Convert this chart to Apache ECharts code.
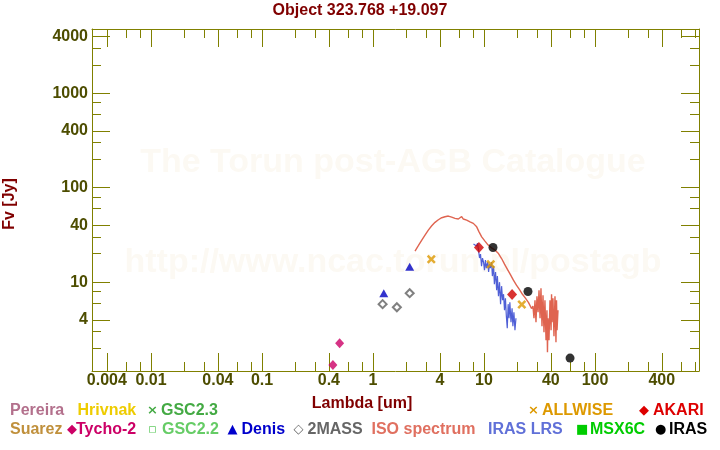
<!DOCTYPE html>
<html><head><meta charset="utf-8">
<script src="https://cdn.jsdelivr.net/npm/echarts@6/dist/echarts.min.js"></script>
<style>html,body{margin:0;padding:0;background:#fff}#c{width:720px;height:450px}</style>
</head><body><div id="c"></div>
<script>
// ---------- data ----------
const chartTitle = 'Object 323.768 +19.097';
const xName = 'Lambda [um]';
const yName = 'Fv [Jy]';
const xRange = [0.002938, 865];
const yRange = [1.147, 4786];
const xTickMajor = [0.004,0.01,0.04,0.1,0.4,1,4,10,40,100,400];
const xTickMinor = [0.006,0.008,0.02,0.03,0.06,0.08,0.2,0.3,0.6,0.8,2,3,6,8,20,30,60,80,200,300,600,800];
const yTickMajor = [4,10,40,100,400,1000,4000];
const yTickMinor = [2,3,6,8,20,30,60,80,200,300,600,800,2000,3000];

const tycho2 = [[0.435,1.33],[0.50,2.25]];
const denis = [[1.25,7.64],[2.14,14.6]];
const twomass = [[1.22,5.85],[1.64,5.43],[2.14,7.64]];
const allwise = [[3.35,17.5],[11.5,15.5],[21.9,5.80]];
const akari = [[9.0,23.3],[17.9,7.41]];
const iras = [[12.05,23.3],[24.9,7.97],[59.6,1.57]];

const isoSpectrum = [
 [2.39,21.3],[2.56,24.3],[2.75,27.9],[2.94,31.5],[3.15,35.6],[3.38,39.5],[3.62,43.0],[3.88,45.8],
 [4.16,48.1],[4.45,49.3],[4.77,50.1],[5.11,48.9],[5.48,47.4],[5.87,46.6],[6.29,49.5],[6.51,46.6],
 [6.98,45.4],[7.48,43.5],[8.01,41.9],[8.59,38.5],[9.02,34.1],[9.53,30.2],[10.2,27.2],[10.9,24.7],
 [11.7,23.1],[12.6,21.8],[13.5,20.1],[14.4,17.8],
 [14.8,18.2],[15.3,15.5],[15.8,16.0],[16.3,13.6],[16.8,14.1],[17.3,12.0],[17.9,12.4],[18.4,10.5],
 [19.0,10.9],[19.6,9.30],[20.2,9.69],[20.9,8.33],[21.5,8.68],[22.2,7.44],[22.9,7.80],[23.7,6.73],
 [24.4,7.05],[25.2,6.08],[26.0,6.24],[26.8,5.26],
 [27.6,5.57],[28.2,4.15],[28.8,6.44],[29.4,3.77],[30.0,7.10],[30.7,4.81],[31.3,8.22],[32.0,4.15],
 [32.6,8.63],[33.3,3.41],[34.0,7.28],[34.7,2.95],[35.4,6.44],[36.2,2.43],[36.9,5.05],[37.3,1.81],
 [37.7,4.15],[38.5,2.43],[39.3,6.44],[40.2,3.10],[40.6,7.46],[41.0,3.77],[41.8,6.76],[42.7,2.68],
 [43.6,7.10],[44.5,2.31],[45.0,6.44],[45.5,3.10],[46.4,5.05]
];
const irasLRS = [
 [8.04,25.3],[8.30,26.5],[8.56,24.1],[8.74,25.9],[8.92,21.8],[9.11,18.0],[9.30,19.8],[9.50,14.8],
 [9.69,18.0],[9.90,16.3],[10.1,13.4],[10.3,17.1],[10.5,14.1],[10.8,16.3],[11.0,12.8],[11.2,15.5],
 [11.4,14.1],[11.7,16.3],[11.9,11.6],[12.2,14.8],[12.4,9.52],[12.7,12.8],[13.0,8.22],[13.2,11.6],
 [13.5,7.10],[13.8,10.0],[14.1,5.85],[14.4,9.07],[14.7,6.44],[15.0,7.46],[15.3,5.05],[15.6,6.76],
 [15.9,4.36],[16.2,3.25],[16.5,5.85],[16.8,4.15],[17.1,6.14],[17.5,3.77],[17.9,5.30],[18.2,3.41],
 [18.6,4.81],[19.0,3.10],[19.4,4.15]
];

const legendRow1 = [
 {name:'Pereira', color:'#b3708c'}, {name:'Hrivnak', color:'#eecc00'},
 {name:'GSC2.3', color:'#44aa44', mark:'×'}, {name:'ALLWISE', color:'#dd9900', mark:'×'},
 {name:'AKARI', color:'#dd0000', mark:'◆'}
];
const legendRow2 = [
 {name:'Suarez', color:'#c0903c'}, {name:'Tycho-2', color:'#cc0066', mark:'◆'},
 {name:'GSC2.2', color:'#66cc66', mark:'▫'}, {name:'Denis', color:'#0000cc', mark:'▲'},
 {name:'2MASS', color:'#666666', mark:'◇'}, {name:'ISO spectrum', color:'#e07060'},
 {name:'IRAS LRS', color:'#6070d8'}, {name:'MSX6C', color:'#00cc00', mark:'■'},
 {name:'IRAS', color:'#000000', mark:'●'}
];

// ---------- layout / style ----------
const AX = '#808000';
const LBL = '#4d4d00';
const FONT = '"Liberation Sans", Arial, sans-serif';
const L = v => Math.log10(v);
const fmt = v => String(parseFloat(Math.pow(10, v).toPrecision(2)));
const P = arr => arr.map(d => [L(d[0]), L(d[1])]);

function mkAxis(kind, pos, ticks, len, labels) {
  const r = kind === 'x' ? xRange : yRange;
  const ax = {
    type: 'value', position: pos, min: L(r[0]), max: L(r[1]),
    axisLine: {show: true, onZero: false, lineStyle: {color: AX, width: 1}},
    axisTick: {show: true, inside: true, length: len, customValues: ticks.map(L), lineStyle: {color: AX, width: 1}},
    splitLine: {show: false},
    axisLabel: {show: false}
  };
  if (labels) {
    ax.axisLabel = {show: true, customValues: ticks.map(L), formatter: fmt, color: LBL,
      fontFamily: FONT, fontWeight: 'bold', fontSize: 16, margin: kind === 'x' ? 2 : 4};
  } else {
    ax.axisLine = {show: false, onZero: false};
  }
  return ax;
}

const xAxes = [
  mkAxis('x','bottom',xTickMajor,18,true), mkAxis('x','bottom',xTickMinor,9,false),
  mkAxis('x','top',xTickMajor,18,false), mkAxis('x','top',xTickMinor,9,false)
];
xAxes[2].axisLine = {show:true, onZero:false, lineStyle:{color:AX,width:1}};
const yAxes = [
  mkAxis('y','left',yTickMajor,18,true), mkAxis('y','left',yTickMinor,9,false),
  mkAxis('y','right',yTickMajor,18,false), mkAxis('y','right',yTickMinor,9,false)
];
yAxes[2].axisLine = {show:true, onZero:false, lineStyle:{color:AX,width:1}};

const CROSS = 'path://M0,2L2,0L5,3L8,0L10,2L7,5L10,8L8,10L5,7L2,10L0,8L3,5Z';

function scatter(name, data, symbol, size, color, extra) {
  return Object.assign({
    name, type: 'scatter', data: P(data), symbol, symbolSize: size,
    itemStyle: {color}, z: 5, animation: false
  }, extra || {});
}

const series = [
  {name:'ISO spectrum', type:'line', data:P(isoSpectrum), showSymbol:false, symbol:'none',
   lineStyle:{color:'#df6450', width:1.4}, z:3, animation:false},
  {name:'IRAS LRS', type:'line', data:P(irasLRS), showSymbol:false, symbol:'none',
   lineStyle:{color:'#4f5fd6', width:1.2}, z:4, animation:false},
  scatter('Tycho-2', tycho2, 'diamond', [9,10], '#cc0066'),
  scatter('Denis', denis, 'triangle', [9,8], '#0000c0'),
  scatter('2MASS', twomass, 'emptyDiamond', [8,8], '#606060', {itemStyle:{color:'#606060', borderColor:'#606060', borderWidth:1.3}}),
  scatter('ALLWISE', allwise, CROSS, [9,9], '#dd9900'),
  scatter('AKARI', akari, 'diamond', [10,11], '#d00000'),
  scatter('IRAS', iras, 'circle', 9, '#000000')
];

// graphic: watermark, axis names, legend
const graphic = [
  {type:'text', z:0, style:{text:'The Torun post-AGB Catalogue', x:393, y:163, align:'center', verticalAlign:'middle',
    font:'bold 34px ' + FONT, fill:'#fcf9f3'}},
  {type:'text', z:0, style:{text:'http://www.ncac.torun.pl/postagb', x:393, y:263, align:'center', verticalAlign:'middle',
    font:'bold 34px ' + FONT, fill:'#fcf9f3'}},
  {type:'text', style:{text:xName, x:362, y:404, align:'center', verticalAlign:'middle', font:'bold 16px ' + FONT, fill:'#800000'}},
  {type:'text', x:10, y:204, rotation:Math.PI/2, style:{text:yName, x:0, y:0, align:'center', verticalAlign:'middle',
    font:'bold 16px ' + FONT, fill:'#800000'}}
];
const row1X = [10, 77.5, 147, 528, 639];
const row2X = [10, 67, 148, 227.5, 293.5, 371.5, 488, 576, 655];
function addRow(items, xs, y) {
  items.forEach((it, i) => {
    let x = xs[i];
    if (it.mark) {
      graphic.push({type:'text', style:{text:it.mark, x:x, y:y, align:'left', verticalAlign:'middle',
        font:'bold 13px "DejaVu Sans", sans-serif', fill:it.color}});
      x += (it.mark === '◆' && it.name === 'Tycho-2') ? 9 : 14;
    }
    graphic.push({type:'text', style:{text:it.name, x:x, y:y, align:'left', verticalAlign:'middle',
      font:'bold 16px ' + FONT, fill:it.color}});
  });
}
addRow(legendRow1, row1X, 410.5);
addRow(legendRow2, row2X, 430);

const option = {
  backgroundColor: '#ffffff',
  animation: false,
  title: {text: chartTitle, left: 'center', top: 3, padding: 0,
    textStyle: {color:'#800000', fontFamily: FONT, fontWeight:'bold', fontSize:16}},
  grid: {left: 92, right: 21, top: 29, bottom: 79, containLabel: false},
  xAxis: xAxes,
  yAxis: yAxes,
  series: series,
  graphic: graphic
};
const chart = echarts.init(document.getElementById('c'), null, {renderer:'canvas'});
chart.setOption(option);
</script>
</body></html>
